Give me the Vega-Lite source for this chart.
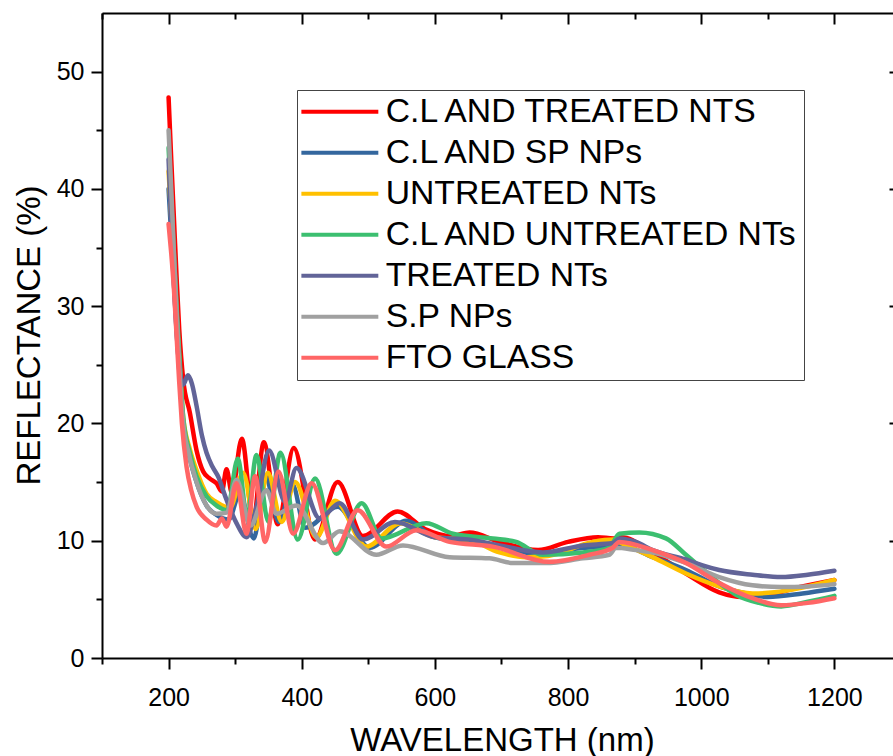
{
  "$schema": "https://vega.github.io/schema/vega-lite/v6.json",
  "width": 791,
  "height": 645,
  "autosize": {"type": "none"},
  "padding": {"left": 102, "top": 13, "right": 0, "bottom": 98},
  "background": "white",
  "config": {
    "font": "Liberation Sans",
    "view": {"stroke": null},
    "axis": {
      "labelFont": "Liberation Sans", "titleFont": "Liberation Sans",
      "labelColor": "black", "titleColor": "black",
      "domainColor": "black", "tickColor": "black",
      "domainWidth": 2, "tickWidth": 2, "grid": false,
      "titleFontWeight": "normal", "labelFontSize": 25, "titleFontSize": 33,
      "labelOverlap": false
    }
  },
  "datasets": {
    "spec": [
      {"s":"C.L AND TREATED NTS","wl":200,"r":47.8},{"s":"C.L AND TREATED NTS","wl":204,"r":42.5},{"s":"C.L AND TREATED NTS","wl":208,"r":37.5},{"s":"C.L AND TREATED NTS","wl":212,"r":32.5},{"s":"C.L AND TREATED NTS","wl":216,"r":28},{"s":"C.L AND TREATED NTS","wl":222,"r":23.7},{"s":"C.L AND TREATED NTS","wl":232,"r":20.9},{"s":"C.L AND TREATED NTS","wl":242,"r":17.7},{"s":"C.L AND TREATED NTS","wl":252,"r":15.9},{"s":"C.L AND TREATED NTS","wl":262,"r":15.3},{"s":"C.L AND TREATED NTS","wl":272,"r":14.9},{"s":"C.L AND TREATED NTS","wl":280,"r":14.2},{"s":"C.L AND TREATED NTS","wl":287,"r":16.1},{"s":"C.L AND TREATED NTS","wl":295,"r":14.1},{"s":"C.L AND TREATED NTS","wl":310,"r":18.7},{"s":"C.L AND TREATED NTS","wl":327,"r":11.7},{"s":"C.L AND TREATED NTS","wl":343,"r":18.4},{"s":"C.L AND TREATED NTS","wl":364,"r":11.4},{"s":"C.L AND TREATED NTS","wl":388,"r":17.9},{"s":"C.L AND TREATED NTS","wl":420,"r":10.1},{"s":"C.L AND TREATED NTS","wl":454,"r":15.0},{"s":"C.L AND TREATED NTS","wl":492,"r":10.4},{"s":"C.L AND TREATED NTS","wl":544,"r":12.5},{"s":"C.L AND TREATED NTS","wl":585,"r":11.0},{"s":"C.L AND TREATED NTS","wl":625,"r":10.4},{"s":"C.L AND TREATED NTS","wl":652,"r":10.7},{"s":"C.L AND TREATED NTS","wl":697,"r":9.9},{"s":"C.L AND TREATED NTS","wl":755,"r":9.2},{"s":"C.L AND TREATED NTS","wl":800,"r":9.9},{"s":"C.L AND TREATED NTS","wl":845,"r":10.3},{"s":"C.L AND TREATED NTS","wl":868,"r":10.2},{"s":"C.L AND TREATED NTS","wl":880,"r":10.3},{"s":"C.L AND TREATED NTS","wl":927,"r":9.0},{"s":"C.L AND TREATED NTS","wl":977,"r":7.2},{"s":"C.L AND TREATED NTS","wl":1027,"r":5.6},{"s":"C.L AND TREATED NTS","wl":1062,"r":5.2},{"s":"C.L AND TREATED NTS","wl":1102,"r":5.4},{"s":"C.L AND TREATED NTS","wl":1152,"r":6.1},{"s":"C.L AND TREATED NTS","wl":1200,"r":6.65},

      {"s":"C.L AND SP NPs","wl":200,"r":40},{"s":"C.L AND SP NPs","wl":204,"r":36},{"s":"C.L AND SP NPs","wl":208,"r":32},{"s":"C.L AND SP NPs","wl":212,"r":28},{"s":"C.L AND SP NPs","wl":216,"r":24.5},{"s":"C.L AND SP NPs","wl":222,"r":20},{"s":"C.L AND SP NPs","wl":232,"r":17},{"s":"C.L AND SP NPs","wl":242,"r":15},{"s":"C.L AND SP NPs","wl":257,"r":13},{"s":"C.L AND SP NPs","wl":272,"r":12.2},{"s":"C.L AND SP NPs","wl":290,"r":11.8},{"s":"C.L AND SP NPs","wl":307,"r":14.0},{"s":"C.L AND SP NPs","wl":328,"r":10.2},{"s":"C.L AND SP NPs","wl":345,"r":15.5},{"s":"C.L AND SP NPs","wl":366,"r":11.6},{"s":"C.L AND SP NPs","wl":386,"r":14.8},{"s":"C.L AND SP NPs","wl":405,"r":11.1},{"s":"C.L AND SP NPs","wl":454,"r":12.9},{"s":"C.L AND SP NPs","wl":502,"r":9.4},{"s":"C.L AND SP NPs","wl":557,"r":11.7},{"s":"C.L AND SP NPs","wl":600,"r":10.3},{"s":"C.L AND SP NPs","wl":640,"r":10.0},{"s":"C.L AND SP NPs","wl":700,"r":9.5},{"s":"C.L AND SP NPs","wl":760,"r":8.8},{"s":"C.L AND SP NPs","wl":822,"r":9.4},{"s":"C.L AND SP NPs","wl":870,"r":9.5},{"s":"C.L AND SP NPs","wl":880,"r":9.6},{"s":"C.L AND SP NPs","wl":927,"r":8.6},{"s":"C.L AND SP NPs","wl":977,"r":7.5},{"s":"C.L AND SP NPs","wl":1027,"r":6.1},{"s":"C.L AND SP NPs","wl":1077,"r":5.4},{"s":"C.L AND SP NPs","wl":1100,"r":5.2},{"s":"C.L AND SP NPs","wl":1152,"r":5.5},{"s":"C.L AND SP NPs","wl":1200,"r":5.9},

      {"s":"UNTREATED NTs","wl":200,"r":41.5},{"s":"UNTREATED NTs","wl":204,"r":37.5},{"s":"UNTREATED NTs","wl":208,"r":33},{"s":"UNTREATED NTs","wl":212,"r":29},{"s":"UNTREATED NTs","wl":216,"r":25.5},{"s":"UNTREATED NTs","wl":222,"r":20.5},{"s":"UNTREATED NTs","wl":232,"r":17.8},{"s":"UNTREATED NTs","wl":242,"r":16},{"s":"UNTREATED NTs","wl":257,"r":14},{"s":"UNTREATED NTs","wl":272,"r":13.3},{"s":"UNTREATED NTs","wl":292,"r":12.8},{"s":"UNTREATED NTs","wl":312,"r":15.8},{"s":"UNTREATED NTs","wl":331,"r":11.0},{"s":"UNTREATED NTs","wl":349,"r":15.8},{"s":"UNTREATED NTs","wl":370,"r":11.6},{"s":"UNTREATED NTs","wl":390,"r":15.0},{"s":"UNTREATED NTs","wl":422,"r":10.3},{"s":"UNTREATED NTs","wl":450,"r":13.4},{"s":"UNTREATED NTs","wl":497,"r":9.5},{"s":"UNTREATED NTs","wl":548,"r":11.5},{"s":"UNTREATED NTs","wl":600,"r":10.3},{"s":"UNTREATED NTs","wl":650,"r":10.1},{"s":"UNTREATED NTs","wl":697,"r":9.0},{"s":"UNTREATED NTs","wl":737,"r":8.6},{"s":"UNTREATED NTs","wl":770,"r":8.7},{"s":"UNTREATED NTs","wl":837,"r":9.9},{"s":"UNTREATED NTs","wl":868,"r":10.1},{"s":"UNTREATED NTs","wl":880,"r":9.8},{"s":"UNTREATED NTs","wl":927,"r":8.6},{"s":"UNTREATED NTs","wl":977,"r":7.2},{"s":"UNTREATED NTs","wl":1027,"r":6.1},{"s":"UNTREATED NTs","wl":1077,"r":5.5},{"s":"UNTREATED NTs","wl":1110,"r":5.6},{"s":"UNTREATED NTs","wl":1152,"r":6.0},{"s":"UNTREATED NTs","wl":1200,"r":6.65},

      {"s":"C.L AND UNTREATED NTs","wl":200,"r":43.5},{"s":"C.L AND UNTREATED NTs","wl":204,"r":39},{"s":"C.L AND UNTREATED NTs","wl":208,"r":34.5},{"s":"C.L AND UNTREATED NTs","wl":212,"r":30},{"s":"C.L AND UNTREATED NTs","wl":216,"r":26},{"s":"C.L AND UNTREATED NTs","wl":222,"r":20.5},{"s":"C.L AND UNTREATED NTs","wl":232,"r":17.5},{"s":"C.L AND UNTREATED NTs","wl":242,"r":15.5},{"s":"C.L AND UNTREATED NTs","wl":257,"r":13.8},{"s":"C.L AND UNTREATED NTs","wl":272,"r":13.0},{"s":"C.L AND UNTREATED NTs","wl":288,"r":12.6},{"s":"C.L AND UNTREATED NTs","wl":304,"r":17.0},{"s":"C.L AND UNTREATED NTs","wl":318,"r":12.0},{"s":"C.L AND UNTREATED NTs","wl":332,"r":17.3},{"s":"C.L AND UNTREATED NTs","wl":350,"r":11.6},{"s":"C.L AND UNTREATED NTs","wl":368,"r":17.5},{"s":"C.L AND UNTREATED NTs","wl":394,"r":10.1},{"s":"C.L AND UNTREATED NTs","wl":420,"r":15.3},{"s":"C.L AND UNTREATED NTs","wl":452,"r":8.9},{"s":"C.L AND UNTREATED NTs","wl":490,"r":13.2},{"s":"C.L AND UNTREATED NTs","wl":520,"r":10.2},{"s":"C.L AND UNTREATED NTs","wl":587,"r":11.5},{"s":"C.L AND UNTREATED NTs","wl":627,"r":10.6},{"s":"C.L AND UNTREATED NTs","wl":687,"r":10.2},{"s":"C.L AND UNTREATED NTs","wl":722,"r":9.9},{"s":"C.L AND UNTREATED NTs","wl":762,"r":8.8},{"s":"C.L AND UNTREATED NTs","wl":822,"r":9.0},{"s":"C.L AND UNTREATED NTs","wl":862,"r":9.4},{"s":"C.L AND UNTREATED NTs","wl":877,"r":10.6},{"s":"C.L AND UNTREATED NTs","wl":907,"r":10.7},{"s":"C.L AND UNTREATED NTs","wl":947,"r":10.2},{"s":"C.L AND UNTREATED NTs","wl":977,"r":8.8},{"s":"C.L AND UNTREATED NTs","wl":1002,"r":7.6},{"s":"C.L AND UNTREATED NTs","wl":1027,"r":6.4},{"s":"C.L AND UNTREATED NTs","wl":1052,"r":5.4},{"s":"C.L AND UNTREATED NTs","wl":1087,"r":4.7},{"s":"C.L AND UNTREATED NTs","wl":1120,"r":4.4},{"s":"C.L AND UNTREATED NTs","wl":1160,"r":4.8},{"s":"C.L AND UNTREATED NTs","wl":1200,"r":5.3},

      {"s":"TREATED NTs","wl":200,"r":42.5},{"s":"TREATED NTs","wl":204,"r":37},{"s":"TREATED NTs","wl":208,"r":32},{"s":"TREATED NTs","wl":213,"r":27},{"s":"TREATED NTs","wl":218,"r":24},{"s":"TREATED NTs","wl":222,"r":23.3},{"s":"TREATED NTs","wl":229,"r":24.1},{"s":"TREATED NTs","wl":235,"r":23.4},{"s":"TREATED NTs","wl":242,"r":21.5},{"s":"TREATED NTs","wl":250,"r":19},{"s":"TREATED NTs","wl":257,"r":17.5},{"s":"TREATED NTs","wl":266,"r":16.3},{"s":"TREATED NTs","wl":275,"r":15.4},{"s":"TREATED NTs","wl":285,"r":13.8},{"s":"TREATED NTs","wl":302,"r":11.5},{"s":"TREATED NTs","wl":317,"r":10.3},{"s":"TREATED NTs","wl":332,"r":12.9},{"s":"TREATED NTs","wl":351,"r":17.7},{"s":"TREATED NTs","wl":375,"r":13.3},{"s":"TREATED NTs","wl":392,"r":16.2},{"s":"TREATED NTs","wl":427,"r":11.9},{"s":"TREATED NTs","wl":457,"r":13.2},{"s":"TREATED NTs","wl":492,"r":10.1},{"s":"TREATED NTs","wl":540,"r":11.6},{"s":"TREATED NTs","wl":600,"r":10.3},{"s":"TREATED NTs","wl":650,"r":10.1},{"s":"TREATED NTs","wl":697,"r":9.6},{"s":"TREATED NTs","wl":762,"r":9.0},{"s":"TREATED NTs","wl":822,"r":9.6},{"s":"TREATED NTs","wl":867,"r":9.8},{"s":"TREATED NTs","wl":877,"r":10.2},{"s":"TREATED NTs","wl":902,"r":9.9},{"s":"TREATED NTs","wl":927,"r":9.2},{"s":"TREATED NTs","wl":977,"r":8.4},{"s":"TREATED NTs","wl":1002,"r":7.9},{"s":"TREATED NTs","wl":1027,"r":7.5},{"s":"TREATED NTs","wl":1077,"r":7.1},{"s":"TREATED NTs","wl":1120,"r":6.9},{"s":"TREATED NTs","wl":1160,"r":7.1},{"s":"TREATED NTs","wl":1200,"r":7.44},

      {"s":"S.P NPs","wl":200,"r":45},{"s":"S.P NPs","wl":204,"r":40},{"s":"S.P NPs","wl":208,"r":34.5},{"s":"S.P NPs","wl":212,"r":29.5},{"s":"S.P NPs","wl":216,"r":25},{"s":"S.P NPs","wl":222,"r":20},{"s":"S.P NPs","wl":230,"r":17.5},{"s":"S.P NPs","wl":242,"r":15},{"s":"S.P NPs","wl":257,"r":13},{"s":"S.P NPs","wl":272,"r":12.3},{"s":"S.P NPs","wl":287,"r":12.4},{"s":"S.P NPs","wl":302,"r":15.2},{"s":"S.P NPs","wl":323,"r":11.3},{"s":"S.P NPs","wl":347,"r":14.3},{"s":"S.P NPs","wl":362,"r":12.3},{"s":"S.P NPs","wl":392,"r":13.0},{"s":"S.P NPs","wl":432,"r":9.8},{"s":"S.P NPs","wl":457,"r":10.8},{"s":"S.P NPs","wl":512,"r":8.8},{"s":"S.P NPs","wl":552,"r":9.6},{"s":"S.P NPs","wl":622,"r":8.6},{"s":"S.P NPs","wl":682,"r":8.5},{"s":"S.P NPs","wl":717,"r":8.1},{"s":"S.P NPs","wl":767,"r":8.1},{"s":"S.P NPs","wl":822,"r":8.5},{"s":"S.P NPs","wl":862,"r":8.8},{"s":"S.P NPs","wl":872,"r":9.4},{"s":"S.P NPs","wl":902,"r":9.2},{"s":"S.P NPs","wl":927,"r":9.0},{"s":"S.P NPs","wl":977,"r":8.1},{"s":"S.P NPs","wl":1027,"r":6.9},{"s":"S.P NPs","wl":1077,"r":6.2},{"s":"S.P NPs","wl":1120,"r":6.05},{"s":"S.P NPs","wl":1160,"r":6.1},{"s":"S.P NPs","wl":1200,"r":6.3},

      {"s":"FTO GLASS","wl":200,"r":37},{"s":"FTO GLASS","wl":204,"r":34.5},{"s":"FTO GLASS","wl":208,"r":31.5},{"s":"FTO GLASS","wl":212,"r":27.5},{"s":"FTO GLASS","wl":216,"r":23.5},{"s":"FTO GLASS","wl":220,"r":20},{"s":"FTO GLASS","wl":227,"r":16.3},{"s":"FTO GLASS","wl":234,"r":14.3},{"s":"FTO GLASS","wl":242,"r":12.9},{"s":"FTO GLASS","wl":257,"r":11.8},{"s":"FTO GLASS","wl":272,"r":11.3},{"s":"FTO GLASS","wl":280,"r":11.9},{"s":"FTO GLASS","wl":287,"r":11.2},{"s":"FTO GLASS","wl":302,"r":14.9},{"s":"FTO GLASS","wl":317,"r":10.6},{"s":"FTO GLASS","wl":330,"r":15.5},{"s":"FTO GLASS","wl":345,"r":9.9},{"s":"FTO GLASS","wl":365,"r":15.9},{"s":"FTO GLASS","wl":387,"r":10.6},{"s":"FTO GLASS","wl":415,"r":14.9},{"s":"FTO GLASS","wl":450,"r":9.2},{"s":"FTO GLASS","wl":484,"r":12.6},{"s":"FTO GLASS","wl":527,"r":9.5},{"s":"FTO GLASS","wl":572,"r":10.9},{"s":"FTO GLASS","wl":622,"r":9.9},{"s":"FTO GLASS","wl":687,"r":9.5},{"s":"FTO GLASS","wl":772,"r":8.2},{"s":"FTO GLASS","wl":832,"r":8.8},{"s":"FTO GLASS","wl":867,"r":9.4},{"s":"FTO GLASS","wl":877,"r":9.9},{"s":"FTO GLASS","wl":927,"r":9.2},{"s":"FTO GLASS","wl":977,"r":8.1},{"s":"FTO GLASS","wl":1027,"r":6.4},{"s":"FTO GLASS","wl":1077,"r":5.1},{"s":"FTO GLASS","wl":1120,"r":4.5},{"s":"FTO GLASS","wl":1160,"r":4.7},{"s":"FTO GLASS","wl":1200,"r":5.1}
    ]
  },
  "data": {"name": "spec"},
  "resolve": {"axis": {"x": "independent", "y": "independent"}},
  "layer": [
    {
      "mark": {"type": "line", "interpolate": "monotone", "strokeWidth": 4.5, "strokeCap": "round", "strokeJoin": "round"},
      "encoding": {
        "x": {"field": "wl", "type": "quantitative",
              "scale": {"domain": [100, 1288], "nice": false, "zero": false},
              "axis": {"orient": "bottom", "values": [200, 400, 600, 800, 1000, 1200], "format": "d", "tickSize": 11, "labelPadding": 16,
                       "title": "WAVELENGTH (nm)", "titleX": 400, "titleY": 92, "titleBaseline": "alphabetic", "titleAlign": "center", "labelFlush": false}},
        "y": {"field": "r", "type": "quantitative",
              "scale": {"domain": [0, 55], "nice": false, "zero": true},
              "axis": {"orient": "left", "values": [0, 10, 20, 30, 40, 50], "format": "d", "tickSize": 11, "labelPadding": 7,
                       "title": "REFLECTANCE (%)", "titleX": -63, "titleY": 322, "titleAngle": 270, "titleAlign": "center", "titleBaseline": "alphabetic"}},
        "color": {"field": "s", "type": "nominal",
                  "scale": {"domain": ["C.L AND TREATED NTS", "C.L AND SP NPs", "UNTREATED NTs", "C.L AND UNTREATED NTs", "TREATED NTs", "S.P NPs", "FTO GLASS"],
                            "range": ["#ff0000", "#34679e", "#ffc000", "#3cbf70", "#626498", "#a0a0a0", "#ff6666"]},
                  "legend": {"title": null, "orient": "none", "legendX": 195, "legendY": 77,
                             "symbolType": "M-4,0H4", "symbolSize": 370, "symbolStrokeWidth": 4, "symbolOffset": 21,
                             "labelFontSize": 33.7, "labelFont": "Liberation Sans", "labelColor": "black", "labelLimit": 600,
                             "labelOffset": 29, "rowPadding": 6, "padding": 5,
                             "strokeColor": "#444444", "fillColor": "white"}}
      }
    },
    {
      "mark": {"type": "line", "opacity": 0},
      "encoding": {
        "x": {"field": "wl", "type": "quantitative",
              "axis": {"orient": "bottom", "values": [100, 300, 500, 700, 900, 1100], "tickSize": 6, "labels": false, "domain": false, "title": null}},
        "y": {"field": "r", "type": "quantitative",
              "axis": {"orient": "left", "values": [5, 15, 25, 35, 45], "tickSize": 6, "labels": false, "domain": false, "title": null}},
        "detail": {"field": "s"}
      }
    },
    {
      "mark": {"type": "line", "opacity": 0},
      "encoding": {
        "x": {"field": "wl", "type": "quantitative",
              "axis": {"orient": "top", "values": [200, 400, 600, 800, 1000, 1200], "tickSize": -11, "labels": false, "domain": true, "title": null}},
        "y": {"field": "r", "type": "quantitative",
              "axis": {"orient": "right", "values": [10, 20, 30, 40, 50], "tickSize": -4, "offset": 0, "labels": false, "domain": false, "title": null}},
        "detail": {"field": "s"}
      }
    },
    {
      "mark": {"type": "line", "opacity": 0},
      "encoding": {
        "x": {"field": "wl", "type": "quantitative",
              "axis": {"orient": "top", "values": [100, 300, 500, 700, 900, 1100], "tickSize": -6, "labels": false, "domain": false, "title": null}},
        "y": {"field": "r", "type": "quantitative", "axis": null},
        "detail": {"field": "s"}
      }
    }
  ]
}
